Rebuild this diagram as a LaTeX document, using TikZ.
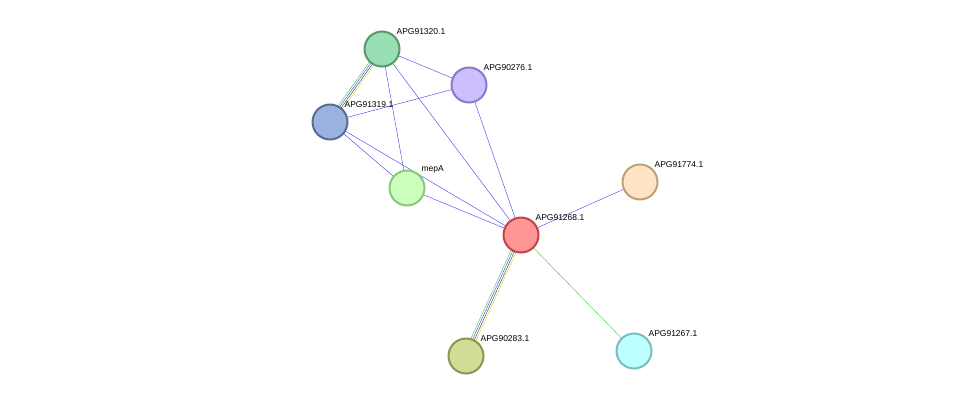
\documentclass[tikz,border=0pt]{standalone}
\usepackage{fontspec}
\setmainfont{Liberation Sans}
\usetikzlibrary{calc,backgrounds}
\definecolor{lnk}{RGB}{60,60,240}
\definecolor{grn}{RGB}{60,200,60}
\definecolor{dsk}{RGB}{60,60,60}
\definecolor{yel}{RGB}{200,210,60}
\newcommand{\MultiEdge}[2]{%
\foreach \off/\col in {-2.7pt/grn,-0.9pt/lnk,0.9pt/dsk,2.7pt/yel}{%
\draw[\col] ($(#1)!\off!90:(#2)$) -- ($(#2)!\off!-90:(#1)$);}}
\begin{document}
\begin{tikzpicture}[x=1pt,y=-1pt,line width=1pt]
	\tikzstyle{prot}=[circle,minimum size=35pt,inner sep=0pt,line width=2pt,
		label={[anchor=south west,inner sep=1pt,font=\fontsize{8.5}{10}\selectfont]45:#1}];
	\tikzstyle{link}=[lnk];
%<--------------------------------------------------------------------------->%
	\useasboundingbox (0,0) rectangle (976,402);
	\node[prot=APG91320.1,fill={rgb,255:red,152;green,224;blue,180},draw={rgb,255:red,90;green,150;blue,110}] (p320) at (382,49) {};
	\node[prot=APG90276.1,fill={rgb,255:red,204;green,190;blue,255},draw={rgb,255:red,140;green,120;blue,200}] (p276) at (469,85) {};
	\node[prot=APG91319.1,fill={rgb,255:red,155;green,178;blue,224},draw={rgb,255:red,85;green,110;blue,150}] (p319) at (330,122) {};
	\node[prot=mepA,fill={rgb,255:red,204;green,255;blue,190},draw={rgb,255:red,140;green,200;blue,120}] (mepA) at (407,188) {};
	\node[prot=APG91774.1,fill={rgb,255:red,255;green,228;blue,196},draw={rgb,255:red,190;green,160;blue,120}] (p774) at (640,182) {};
	\node[prot=APG91268.1,fill={rgb,255:red,255;green,150;blue,150},draw={rgb,255:red,190;green,70;blue,70}] (p268) at (521,235) {};
	\node[prot=APG90283.1,fill={rgb,255:red,210;green,220;blue,150},draw={rgb,255:red,140;green,150;blue,80}] (p283) at (466,356) {};
	\node[prot=APG91267.1,fill={rgb,255:red,190;green,255;blue,255},draw={rgb,255:red,120;green,190;blue,190}] (p267) at (634,351) {};
	%% links
	\begin{scope}[on background layer]
	\MultiEdge{p320.center}{p319.center}
	\MultiEdge{p268.center}{p283.center}
	\draw[link] (p320.center) -- (p276.center);
	\draw[link] (p320.center) -- (mepA.center);
	\draw[link] (p320.center) -- (p268.center);
	\draw[link] (p319.center) -- (p276.center);
	\draw[link] (p319.center) -- (mepA.center);
	\draw[link] (p319.center) -- (p268.center);
	\draw[link] (mepA.center) -- (p268.center);
	\draw[link] (p276.center) -- (p268.center);
	\draw[link] (p268.center) -- (p774.center);
	\draw[grn]  (p268.center) -- (p267.center);
	\end{scope}
\end{tikzpicture}
\end{document}
